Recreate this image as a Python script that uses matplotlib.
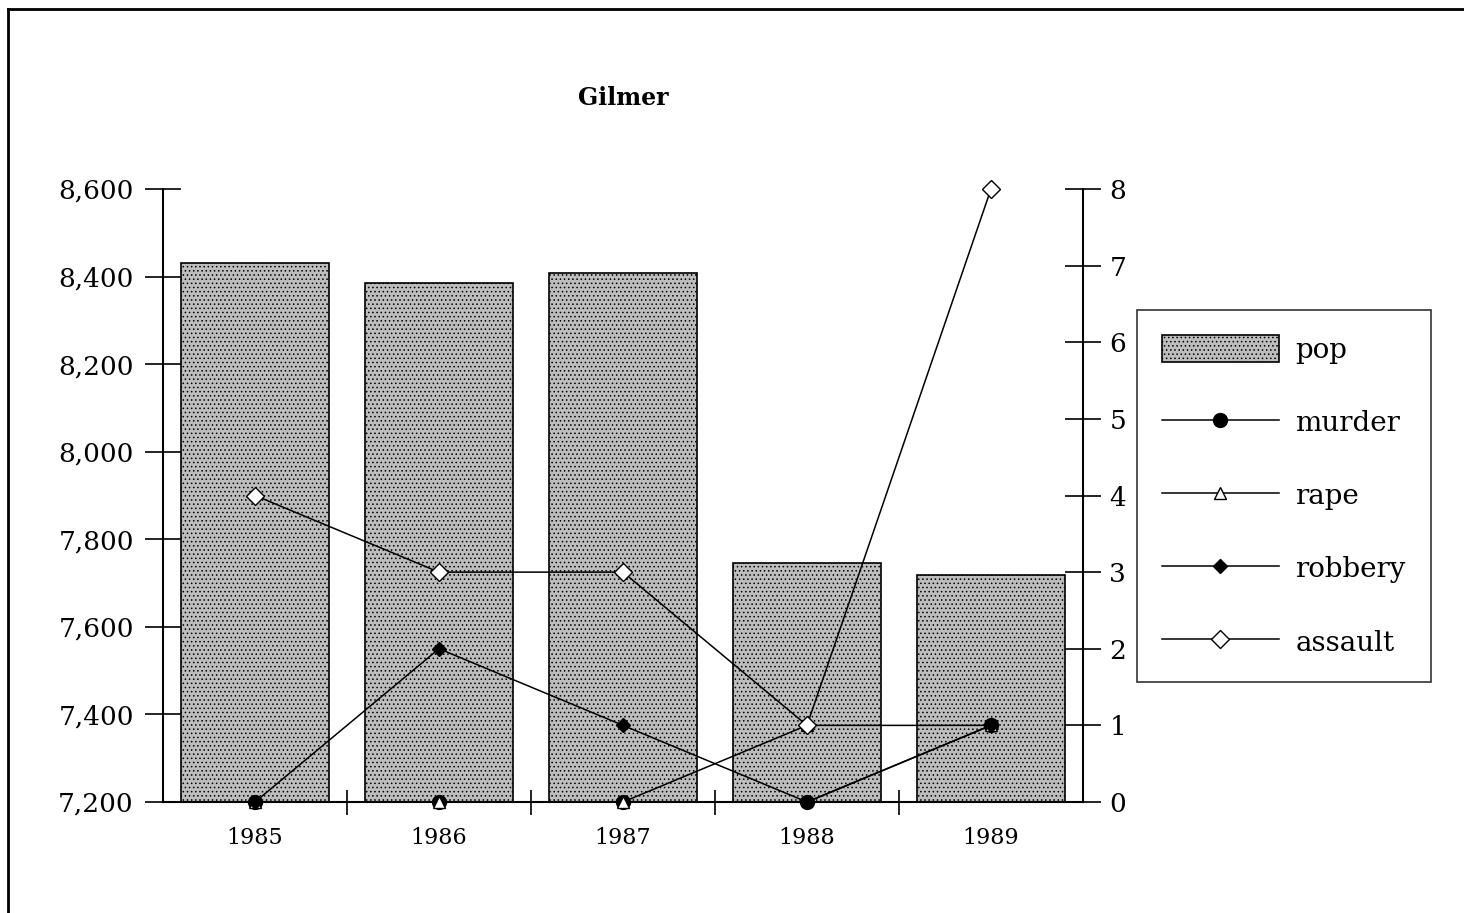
import matplotlib
matplotlib.use("Agg")
import matplotlib.pyplot as plt
import numpy as np
from matplotlib.lines import Line2D

plt.rcParams['font.family'] = ['DejaVu Serif']
plt.rcParams['hatch.linewidth'] = 0.6

years = ["1985", "1986", "1987", "1988", "1989"]
pop = [8431, 8385, 8408, 7746, 7718]
murder = [0, 0, 0, 0, 1]
rape = [0, 0, 0, 1, 1]
robbery = [0, 2, 1, 0, 1]
assault = [4, 3, 3, 1, 8]

fig = plt.figure(figsize=(14.64, 9.13), dpi=100)
ax = fig.add_axes([163/1464, 1-802/913, (1083-163)/1464, (802-189)/913])
ax2 = ax.twinx()

x = np.arange(len(years))
ax.bar(x, pop, width=0.8, bottom=0, facecolor='#bdbdbd', edgecolor='black',
       hatch='....', linewidth=1.2, label='pop')
ax.set_ylim(7200, 8600)
ax.set_xlim(-0.5, 4.5)
ax.set_yticks(np.arange(7200, 8601, 200))
ax.set_yticklabels(["{:,}".format(v) for v in range(7200, 8601, 200)], fontsize=19)
ax.set_xticks(x)
ax.set_xticklabels(years, fontsize=16)
ax.tick_params(axis='x', length=0, pad=18)
ax.set_xticks(np.arange(0.5, 4.5, 1), minor=True)
ax.tick_params(axis='x', which='minor', direction='inout', length=18, width=1.2)
ax.tick_params(axis='y', direction='inout', length=26, width=1.2, pad=8)
for s in ['top', 'right']:
    ax.spines[s].set_visible(False)
ax.spines['left'].set_linewidth(1.5)
ax.spines['bottom'].set_linewidth(1.5)

kw = dict(color='black', linewidth=1.1, markeredgecolor='black', clip_on=False)
ax2.plot(x, murder, marker='o', markersize=10, markerfacecolor='black', label='murder', **kw)
ax2.plot(x, rape, marker='^', markersize=9, markerfacecolor='white', label='rape', **kw)
ax2.plot(x, robbery, marker='D', markersize=7, markerfacecolor='black', label='robbery', **kw)
ax2.plot(x, assault, marker='D', markersize=9, markerfacecolor='white', label='assault', **kw)
ax2.set_ylim(0, 8)
ax2.set_yticks(range(0, 9))
ax2.tick_params(axis='y', direction='inout', length=26, width=1.2, labelsize=19, pad=6)
for s in ['top', 'left', 'bottom']:
    ax2.spines[s].set_visible(False)
ax2.spines['right'].set_linewidth(1.5)

h1, l1 = ax.get_legend_handles_labels()
h2, l2 = ax2.get_legend_handles_labels()
leg = fig.legend(h1 + h2, l1 + l2, loc='upper left',
                 bbox_to_anchor=(1137/1464, 1-310/913), fontsize=20,
                 frameon=True, fancybox=False, edgecolor='black',
                 handlelength=4.2, handleheight=1.1, labelspacing=1.6,
                 borderpad=0.9, handletextpad=0.6, borderaxespad=0)
leg.get_frame().set_linewidth(1.2)

fig.text(623/1464, 1-98/913, "Gilmer", fontsize=17, fontweight='bold',
         ha='center', va='center')

fig.add_artist(Line2D([8/1464, 8/1464], [0, 1-9/913], color='black', linewidth=2))
fig.add_artist(Line2D([8/1464, 1], [1-9/913, 1-9/913], color='black', linewidth=2))

fig.savefig("out.png", dpi=100)
